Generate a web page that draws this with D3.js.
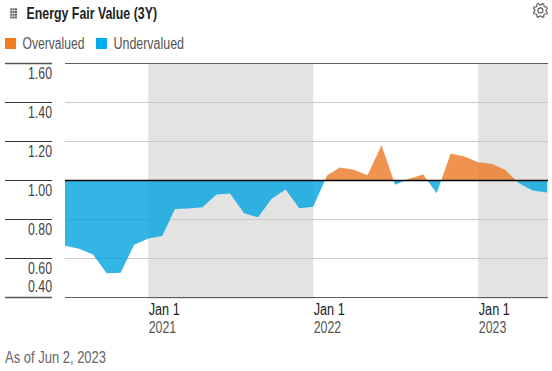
<!DOCTYPE html>
<html>
<head>
<meta charset="utf-8">
<script src="https://cdn.jsdelivr.net/npm/d3@7"></script>
<style>
  html, body { margin: 0; padding: 0; background: #fff; }
  svg { display: block; }
  text { font-family: "Liberation Sans", sans-serif; }
</style>
</head>
<body>
<div id="chart"></div>
<script>
var months = [
  "2020-07-01","2020-08-01","2020-09-01","2020-10-01","2020-11-01","2020-12-01",
  "2021-01-01","2021-02-01","2021-03-01","2021-04-01","2021-05-01","2021-06-01",
  "2021-07-01","2021-08-01","2021-09-01","2021-10-01","2021-11-01","2021-12-01",
  "2022-01-01","2022-02-01","2022-03-01","2022-04-01","2022-05-01","2022-06-01",
  "2022-07-01","2022-08-01","2022-09-01","2022-10-01","2022-11-01","2022-12-01",
  "2023-01-01","2023-02-01","2023-03-01","2023-04-01","2023-05-01","2023-06-02"
];
var fairValue = [
  0.666, 0.650, 0.620, 0.525, 0.527, 0.671,
  0.703, 0.716, 0.854, 0.856, 0.863, 0.928,
  0.933, 0.832, 0.811, 0.907, 0.954, 0.858,
  0.866, 1.027, 1.067, 1.055, 1.027, 1.181,
  0.978, 1.009, 1.031, 0.935, 1.139, 1.123,
  1.093, 1.084, 1.055, 0.986, 0.949, 0.938
];
var yTicks = [1.6, 1.4, 1.2, 1.0, 0.8, 0.6, 0.4];
var yearTicks = ["2021-01-01", "2022-01-01", "2023-01-01"];
var shadedYears = [["2021-01-01", "2022-01-01"], ["2023-01-01", "2023-06-02"]];
var legendItems = ["Overvalued", "Undervalued"];

var parseDate = d3.timeParse("%Y-%m-%d");
var data = months.map(function(m, i) { return { date: parseDate(m), value: fairValue[i] }; });

var width = 552, height = 371;
var orange = "#f47b20", blue = "#00aeef";
var areaOrange = "#ec7824", areaBlue = "#00a4e0";

var svg = d3.select("#chart").append("svg")
    .attr("width", width)
    .attr("height", height);

var x = d3.scaleTime()
    .domain([parseDate(months[0]), parseDate(months[months.length - 1])])
    .range([65, 547]);

var y = d3.scaleLinear()
    .domain([0.4, 1.6])
    .range([297.5, 63.5]);

// no condensed font installed, so squeeze the text to the measured width
function narrow(sel, w) {
  sel.attr("textLength", w).attr("lengthAdjust", "spacingAndGlyphs");
}

// title + drag handle
var handle = svg.append("g").attr("fill", "#666");
d3.range(3).forEach(function(col) {
  d3.range(4).forEach(function(row) {
    handle.append("rect")
      .attr("x", 10.2 + col * 2.4).attr("y", 8.3 + row * 2.7)
      .attr("width", 2).attr("height", 2.1);
  });
});

svg.append("text")
    .attr("x", 26.5).attr("y", 18.5)
    .attr("font-size", 16.5).attr("font-weight", "bold").attr("fill", "#222")
    .text("Energy Fair Value (3Y)")
    .call(narrow, 130.5);

// settings gear
var gear = svg.append("g")
    .attr("transform", "translate(540.4,10.4)")
    .attr("fill", "none").attr("stroke", "#555").attr("stroke-width", 1.1);
gear.append("path").attr("d", d3.range(32).map(function(i) {
  var r = i % 4 < 2 ? 7.2 : 5.6;
  var a = (i + 1.5) / 32 * 2 * Math.PI;
  return (i ? "L" : "M") + (r * Math.cos(a)).toFixed(2) + "," + (r * Math.sin(a)).toFixed(2);
}).join("") + "Z");
gear.append("circle").attr("r", 2.5);

// legend
var legendX = [5, 96];
var legendW = [62, 70.5];
legendItems.forEach(function(name, i) {
  svg.append("rect")
    .attr("x", legendX[i]).attr("y", 38)
    .attr("width", 11).attr("height", 11)
    .attr("fill", i ? blue : orange);
  svg.append("text")
    .attr("x", legendX[i] + 17.5).attr("y", 49)
    .attr("font-size", 16).attr("fill", "#555")
    .text(name)
    .call(narrow, legendW[i]);
});

// shaded years
svg.append("g").selectAll("rect")
    .data(shadedYears)
  .enter().append("rect")
    .attr("x", function(d) { return x(parseDate(d[0])); })
    .attr("y", 63)
    .attr("width", function(d, i) { return (i ? 548 : x(parseDate(d[1]))) - x(parseDate(d[0])); })
    .attr("height", 236)
    .attr("fill", "#e3e3e3");

// gridlines
svg.append("g").selectAll("line")
    .data(yTicks)
  .enter().append("line")
    .attr("x1", 65).attr("x2", 548)
    .attr("y1", function(d) { return y(d); })
    .attr("y2", function(d) { return y(d); })
    .attr("stroke", function(d) { return d == 1.6 || d == 0.4 ? "#5e5e5e" : "#c9c9c9"; })
    .attr("stroke-width", 1);

// area split at fair value = 1
var area = d3.area()
    .x(function(d) { return x(d.date); })
    .y0(y(1))
    .y1(function(d) { return y(d.value); });

var defs = svg.append("defs");
defs.append("clipPath").attr("id", "above").append("rect")
    .attr("x", 0).attr("y", 0).attr("width", width).attr("height", y(1));
defs.append("clipPath").attr("id", "below").append("rect")
    .attr("x", 0).attr("y", y(1)).attr("width", width).attr("height", height - y(1));

svg.append("path").datum(data)
    .attr("d", area).attr("fill", areaOrange).attr("fill-opacity", 0.8)
    .attr("clip-path", "url(#above)");
svg.append("path").datum(data)
    .attr("d", area).attr("fill", areaBlue).attr("fill-opacity", 0.8)
    .attr("clip-path", "url(#below)");

svg.append("line")
    .attr("x1", 65).attr("x2", 548)
    .attr("y1", y(1)).attr("y2", y(1))
    .attr("stroke", "#000").attr("stroke-width", 1.4);

// y axis, labels sit under the tick lines
var yAxis = d3.axisLeft(y)
    .tickValues(yTicks)
    .tickSize(47)
    .tickPadding(0)
    .tickFormat(d3.format(".2f"));

var yG = svg.append("g")
    .attr("transform", "translate(52,0)")
    .call(yAxis);
yG.select(".domain").remove();
yG.selectAll(".tick").attr("transform", function(d) { return "translate(0," + y(d) + ")"; });
yG.selectAll(".tick line")
    .attr("x1", 0).attr("x2", -47)
    .attr("stroke", function(d) { return d == 1.6 || d == 0.4 ? "#555" : "#333"; })
    .attr("stroke-width", function(d) { return d == 1.6 || d == 0.4 ? 1.6 : 1; });
yG.selectAll(".tick text")
    .attr("x", 0)
    .attr("dy", function(d) { return d == 0.4 ? -5.8 : 15.4; })
    .attr("text-anchor", "end")
    .attr("font-size", 16.5)
    .attr("font-family", "Liberation Sans")
    .attr("fill", "#444")
    .call(narrow, 24);

// x axis
var xAxis = d3.axisBottom(x)
    .tickValues(yearTicks.map(parseDate))
    .tickSize(0)
    .tickPadding(0)
    .tickFormat(function() { return "Jan 1"; });

var xG = svg.append("g")
    .attr("transform", "translate(0,298)")
    .call(xAxis);
xG.select(".domain").remove();
xG.selectAll(".tick text")
    .attr("text-anchor", "start")
    .attr("y", 17.3)
    .attr("dy", 0)
    .attr("font-size", 16)
    .attr("font-family", "Liberation Sans")
    .attr("fill", "#222")
    .call(narrow, 31);
xG.selectAll(".tick").append("text")
    .attr("y", 35)
    .attr("fill", "#555")
    .attr("text-anchor", "start")
    .attr("font-size", 16)
    .attr("font-family", "Liberation Sans")
    .text(function(d) { return d3.timeFormat("%Y")(d); })
    .call(narrow, 27.5);

svg.append("text")
    .attr("x", 5).attr("y", 362.5)
    .attr("font-size", 16).attr("fill", "#666")
    .text("As of Jun 2, 2023")
    .call(narrow, 101);
</script>
</body>
</html>
